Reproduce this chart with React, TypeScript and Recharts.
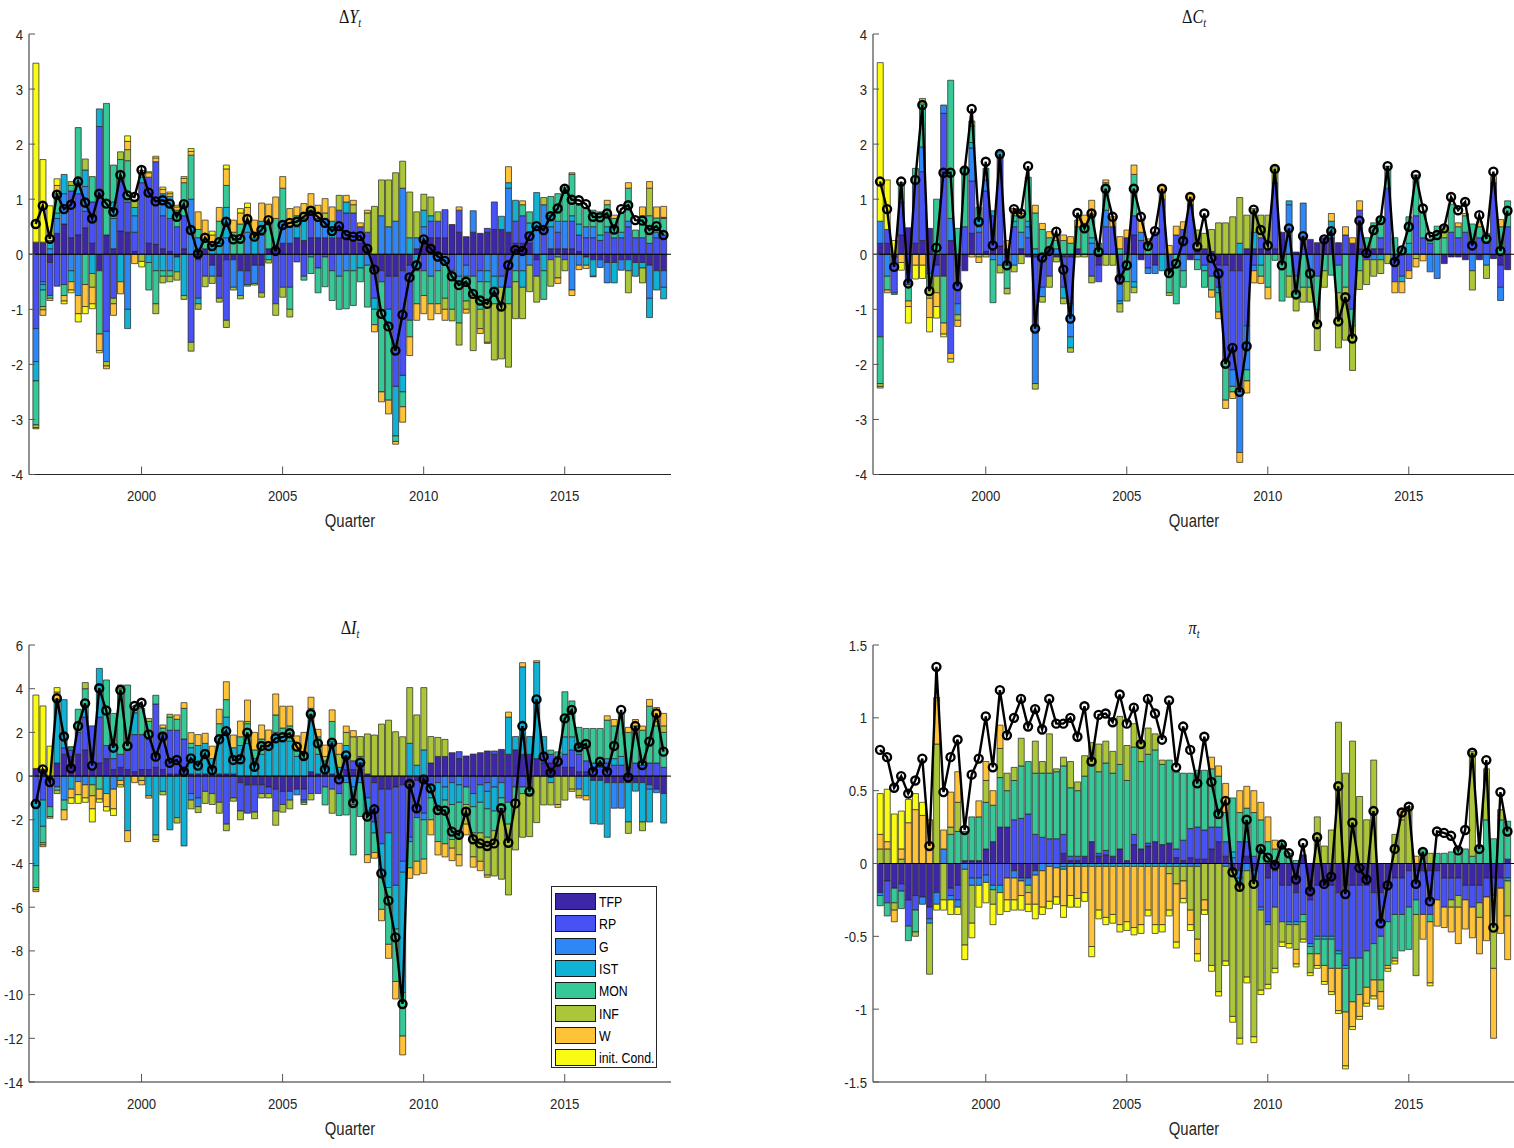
import React from "react";
import { ComposedChart, Bar, Line, XAxis, YAxis, ReferenceLine } from "recharts";

const SANS = '"Liberation Sans", Arial, Helvetica, sans-serif';
const SERIF = '"Liberation Serif", "Times New Roman", serif';
const INK = "#262626";
const SX = 0.85; // the source figure is squeezed horizontally

// 1996Q2 .. 2018Q3
const QUARTERS: string[] = [];
for (let y = 1996; y <= 2018; y++) {
  for (let q = 1; q <= 4; q++) {
    if ((y === 1996 && q < 2) || (y === 2018 && q > 3)) continue;
    QUARTERS.push(`${y}Q${q}`);
  }
}
const X_TICKS = ["2000Q1", "2005Q1", "2010Q1", "2015Q1"];

const SHOCKS = ["TFP", "RP", "G", "IST", "MON", "INF", "W", "init. Cond."];
const SHOCK_COLORS = ["#3e26a8", "#4852f4", "#2e87f7", "#11b1d6", "#37c897", "#abc739", "#fec338", "#f9fb15"];

// ---------- ΔY ----------
const dyTFP = [
  .22, .22, -.15, .38, .55, .3, .35, .48, .2, -.3,
  .35, .1, .42, .4, .05, 0, .2, .18, .1, .05,
  -.05, .1, 0, -.1, .1, -.2, -.4, -.1, -.1, -.3,
  -.3, -.2, -.2, .1, .15, .2, .2, .3, .25, .3,
  .3, .3, .3, .3, .3, .25, .2, .1, -.3, -.3,
  -.4, -.4, -.3, -.2, .1, .2, .3, .3, .3, .54,
  .4, .32, .4, .38, .4, .45, .45, .4, .2, .2,
  .2, -.1, 0, .1, .1, .1, .1, .05, -.05, -.1,
  -.1, -.15, -.15, -.1, -.1, -.15, -.15, -.2, -.3, -.3,
];
const dyRP = [
  -1.35, -.5, -.6, -.58, -.55, .85, .75, .3, .75, 2.32,
  -1.4, -.8, .9, .55, .35, 1.3, 1.2, 1.5, .6, .6,
  .5, .6, -1.6, -.7, -.4, 0, -.4, -1.1, 0, 0,
  -.25, 0, -.5, 0, -.9, -.6, -.6, -.14, -.4, .5,
  -.25, -.05, -.3, .5, .45, .5, .3, .3, -.5, -.2,
  -.6, -2.0, -1.9, -1.0, 0, -.3, .3, .3, .51, -.3,
  .4, -.2, -.4, -.3, .07, .5, -.4, -.6, .4, .5,
  .2, -.3, .5, -.1, .3, -.1, .5, .3, .3, .3,
  .25, .4, .3, .3, .5, .3, .3, .2, .3, .35,
];
const dyG = [
  -.6, -.05, .1, .27, .55, -.3, -.75, .45, 0, 0,
  -.55, .55, 0, -1.0, .3, 0, 0, 0, .4, -.3,
  0, 0, 1.0, .3, 0, -.2, 0, .3, -.5, -.45,
  .4, -.33, .35, 0, 0, .4, .3, 0, 0, -.05,
  .35, .35, 0, -.4, -.3, 0, 0, -.2, 0, .7,
  .5, .6, 1.2, 0, .2, .3, -.4, -.3, -.2, 0,
  -.4, -.2, .39, -.2, -.3, -.4, -.2, .8, -.3, -.3,
  -.2, .5, .4, .4, .2, .5, -.65, -.2, .2, .2,
  -.14, -.37, 0, -.19, .1, 0, 0, -.6, .1, -.3,
];
const dyIST = [
  -.35, -.1, .15, .1, .35, -.2, .3, .3, -.35, .32,
  0, .3, -.5, -.35, .15, .1, -.15, -.3, -.3, .4,
  -.27, -.75, 0, -.1, 0, .15, .2, .55, 0, 0,
  .2, .3, .25, -.1, 0, 0, 0, .2, .4, 0,
  0, 0, .3, 0, .2, -.3, -.25, 0, -.2, 0,
  -.3, -.9, -.3, .3, -.3, .3, .1, 0, 0, 0,
  -.1, 0, 0, 0, -.2, -.3, .24, .1, .38, -.3,
  .17, .62, -.3, .2, -.05, 0, .1, .2, -.15, -.3,
  .1, .1, -.37, .1, -.2, -.25, -.1, -.35, -.35, -.21,
];
const dyMON = [
  -.8, -.3, -.05, .35, -.2, .1, .9, -.55, .46, -1.15,
  2.39, .67, .4, .75, 0, .07, -.5, -.6, -.1, -.1,
  .3, .6, .8, .15, .17, 0, .4, .4, .4, .55,
  -.03, 0, 0, .45, .5, .6, -.4, .2, -.07, -.3,
  -.45, -.54, -.54, -.6, -.69, -.63, -.25, -.76, -.28, -2.0,
  -1.35, -.1, -.27, -.3, -.6, -.45, -.5, -.6, -.6, -.7,
  -.75, -.45, -.35, -.5, -.4, -.2, 0, -.3, -.2, .2,
  .2, 0, -.52, .35, .5, .62, .75, .34, .33, .3,
  .42, .4, .35, .34, .6, .14, .4, .5, .26, .3,
];
const dyINF = [
  -.05, -.06, 0, 0, 0, .07, 0, .2, -.25, 0,
  -.08, -.1, .14, .2, .13, -.13, 0, -.18, -.12, -.1,
  -.15, -.07, -.16, -.1, -.19, -.13, -.07, -.13, -.05, -.06,
  0, -.03, -.08, -.06, -.21, -.18, -.14, 0, .1, .05,
  0, .1, 0, .27, 0, .15, 0, .35, .87, .65,
  .85, .88, .49, .83, .47, .29, .34, .17, -.2, -.21,
  -.4, -.15, -1.0, -.35, -.7, -1.02, -1.3, -1.15, -.67, -.57,
  -.48, -.47, .13, -.48, -.38, -.2, .03, 0, 0, 0,
  0, 0, 0, 0, -.4, 0, -.27, .5, 0, .02,
];
const dyW = [
  -.02, -.1, -.04, .15, -.1, -.15, -.33, -.4, -.3, -.3,
  -.05, -.21, -.22, .15, -.17, .05, .08, .07, .08, .05,
  .06, .08, .07, .32, .35, .2, .25, .3, .22, .2,
  .25, .32, .33, .36, .39, .21, .33, .16, .17, .25,
  .24, .26, .26, 0, .12, .08, .07, .05, -.13, -.18,
  -.25, -.05, -.28, -.34, -.3, -.33, -.29, -.18, -.2, 0,
  .06, -.07, 0, -.09, -.02, 0, 0, .29, 0, .07,
  0, 0, 0, 0, -.1, 0, -.1, -.08, -.06, -.01,
  0, .08, .06, 0, .1, 0, .16, .12, .2, .2,
];
const dyINIT = [
  3.25, 1.5, .63, .12, -.05, -.05, -.15, -.13, -.09, -.04,
  0, 0, 0, .1, 0, -.1, .02, .03, .04, .03,
  .03, .03, .05, 0, 0, .07, 0, .07, 0, .08,
  .08, 0, 0, 0, 0, 0, 0, 0, 0, 0,
  0, 0, 0, 0, 0, 0, 0, 0, 0, 0,
  0, 0, 0, 0, 0, 0, 0, 0, 0, 0,
  0, 0, 0, 0, 0, 0, 0, 0, 0, 0,
  0, 0, 0, 0, 0, 0, 0, 0, 0, 0,
  0, 0, 0, 0, 0, 0, 0, 0, 0, 0,
];
const dyLine = [
  .55, .88, .28, 1.08, .82, .9, 1.32, .94, .65, 1.1,
  .92, .77, 1.44, 1.07, 1.04, 1.53, 1.12, .96, .98, .92,
  .68, .91, .44, .01, .3, .15, .22, .59, .27, .28,
  .64, .32, .44, .62, .06, .53, .57, .59, .68, .79,
  .68, .57, .42, .51, .35, .32, .33, .1, -.28, -1.08,
  -1.31, -1.75, -1.1, -.42, -.2, .27, .1, -.04, -.12, -.4,
  -.56, -.5, -.72, -.84, -.9, -.68, -.95, -.2, .08, .06,
  .33, .51, .44, .69, .83, 1.19, .99, .98, .91, .68,
  .67, .74, .45, .82, .89, .62, .61, .44, .51, .35,
];

// ---------- ΔC ----------
const dcTFP = [
  .2, .2, -.05, .35, .48, .2, .25, .47, -.2, -.4,
  .25, -.2, -.3, .38, 0, .05, .1, .15, .1, 0,
  .1, -.05, -.05, 0, .1, -.05, -.05, -.05, .1, 0,
  0, -.2, 0, 0, 0, .3, .35, -.1, 0, -.2,
  0, 0, 0, 0, -.1, .1, .1, .05, -.2, -.2,
  -.3, -.3, .1, .1, .1, .1, .1, .4, 0, .04,
  0, .27, .21, .3, .3, .21, 0, .2, .1, .1,
  .1, .1, 0, 0, 0, 0, 0, 0, 0, 0,
  -.17, -.05, -.05, -.1, 0, -.1, 0, -.08, -.2, -.28,
];
const dcRP = [
  -1.5, .25, -.65, .6, -.55, 1.1, 1.25, -.35, -.2, 2.56,
  -1.8, -.7, .5, .95, .4, 1.1, .6, 1.6, -.2, .5,
  0, .3, -1.25, -.6, -.4, 0, -.55, -.85, 0, 0,
  -.4, -.3, .5, .5, -.55, 0, .35, .25, -.25, .4,
  1.0, -.3, .35, .45, .9, 0, -.2, -.4, -.4, -1.7,
  -1.8, -2.2, -1.3, -.2, .2, 0, 1.2, 0, 0, -.4,
  .3, 0, -.4, 0, 0, -.2, .35, -1.0, .7, -.1,
  0, .2, 1.2, -.5, -.4, -.3, .7, .3, .2, 0,
  0, .4, .3, .4, .2, .3, .2, 1.3, -.4, .5,
];
const dcG = [
  .4, -.4, 0, 0, 0, 0, .45, 0, 0, .15,
  .4, -.2, 0, .6, .1, .2, -.1, -.2, 0, -.2,
  .3, .2, -1.05, -.17, 0, .1, 0, -.6, 0, 0,
  .2, 0, .3, 0, -.3, 0, -.5, .15, -.1, -.15,
  0, 0, 0, -.3, 0, -.1, 0, 0, 0, 0,
  -.3, -1.1, -.8, -.1, 0, 0, 0, 0, .9, 0,
  .63, -.3, 0, 0, 0, 0, 0, 0, 0, 0,
  -.1, 0, 0, 0, 0, 0, 0, 0, -.32, -.44,
  0, 0, 0, 0, -.3, 0, -.2, 0, -.24, 0,
];
const dcIST = [
  0, 0, -.03, 0, 0, 0, 0, 0, 0, 0,
  0, 0, 0, .1, .15, 0, .09, .11, 0, .1,
  0, .1, .1, 0, 0, 0, -.2, -.2, 0, 0,
  .1, 0, 0, 0, -.05, 0, -.1, 0, 0, 0,
  -.3, 0, 0, 0, 0, 0, -.1, 0, -.1, 0,
  0, .2, 0, .3, -.2, 0, 0, 0, .07, 0,
  0, 0, 0, 0, .3, 0, 0, 0, 0, 0,
  0, -.1, 0, 0, -.1, .2, 0, 0, 0, 0,
  0, 0, 0, 0, 0, 0, 0, 0, 0, 0,
];
const dcMON = [
  -.85, -.25, 0, .35, -.3, .26, .78, -.25, 1.0, -.85,
  2.51, .47, 1.06, .3, .2, .21, -.78, 0, -.42, .1,
  .3, .8, .65, .45, .2, .15, .25, .2, .4, .55,
  .43, .2, .5, 0, .1, -.5, .75, 0, .2, 0,
  0, -.4, -.9, -.3, 0, -.18, -.3, -.25, -.35, -.75,
  -.1, 0, -.2, 0, -.2, -.6, -.11, -.85, -.4, -.4,
  -.6, -.3, -.6, -.3, -.38, -.5, -.6, -.3, -.3, .2,
  .47, .38, .4, .3, .1, .48, .74, .47, .08, .51,
  .3, .51, .2, .3, .35, .2, .18, 0, .5, .47,
];
const dcINF = [
  -.05, 0, 0, 0, 0, 0, .1, -.2, -.3, 0,
  0, -.1, 0, .09, -.05, -.05, 0, -.14, -.1, -.12,
  -.17, 0, -.1, -.1, -.2, -.09, -.1, -.08, -.05, -.05,
  -.12, 0, -.2, -.2, -.15, -.35, -.1, 0, 0, 0,
  0, -.05, 0, 0, 0, .34, .28, .4, .57, .57,
  .68, .83, .61, .43, .41, .61, .29, 0, -.38, -.23,
  -.27, -.27, -.75, -.3, 0, -1.0, -.96, -.81, -.34, -.45,
  -.3, -.25, -.17, 0, 0, 0, -.08, 0, 0, 0,
  .2, 0, 0, 0, -.35, 0, -.24, 0, 0, 0,
];
const dcW = [
  -.03, -.05, 0, -.15, -.1, -.2, -.2, -.35, -.25, -.2,
  -.1, -.11, 0, -.05, -.1, 0, 0, 0, .15, .13,
  .04, 0, .14, .11, .11, .1, .1, .12, .12, .16,
  .25, 0, .05, .18, .22, .14, .17, .22, .08, 0,
  .25, .16, .16, .14, .2, 0, 0, -.13, -.12, -.15,
  -.12, -.18, -.22, -.22, -.13, -.21, 0, 0, 0, 0,
  0, 0, 0, 0, .14, 0, .15, .1, .17, 0,
  0, 0, 0, -.2, -.2, -.14, -.15, -.12, 0, 0,
  0, 0, .07, .04, 0, .09, 0, .11, .13, 0,
];
const dcINIT = [
  2.88, .9, .25, -.14, -.3, -.25, -.24, -.26, -.21, -.05,
  -.06, 0, 0, 0, 0, 0, 0, 0, 0, 0,
  0, 0, 0, 0, 0, 0, 0, 0, 0, 0,
  0, 0, 0, 0, 0, 0, 0, 0, 0, 0,
  0, 0, 0, 0, 0, 0, 0, 0, 0, 0,
  0, 0, 0, 0, 0, 0, 0, 0, 0, 0,
  0, 0, 0, 0, 0, 0, 0, 0, 0, 0,
  0, 0, 0, 0, 0, 0, 0, 0, 0, 0,
  0, 0, 0, 0, 0, 0, 0, 0, 0, 0,
];
const dcLine = [
  1.32, .82, -.23, 1.32, -.53, 1.35, 2.71, -.67, .12, 1.48,
  1.48, -.58, 1.52, 2.64, .59, 1.68, .16, 1.82, -.2, .82,
  .74, 1.6, -1.35, -.06, .06, .41, -.28, -1.17, .75, .47,
  .74, .04, 1.19, .68, -.45, -.2, 1.19, .68, .15, .42,
  1.19, -.34, -.17, .24, 1.04, .14, .74, -.07, -.35, -1.99,
  -1.7, -2.5, -1.67, .81, .44, .16, 1.55, -.2, .47, -.73,
  .33, -.35, -1.27, .27, .42, -1.22, -.78, -1.53, .61, .02,
  .44, .62, 1.6, -.14, .07, .5, 1.44, .83, .32, .35,
  .47, 1.04, .8, .95, .16, .71, .28, 1.5, .06, .79,
];

// ---------- ΔI ----------
const diTFP = [
  .35, .3, -.1, .6, 1.0, .9, 1.0, 1.2, .3, .6,
  .8, .3, .4, .3, .2, .3, .3, .4, .3, .1,
  .1, .1, .1, .1, .1, .1, .1, .1, .1, -.3,
  -.4, -.4, -.4, -.5, -.6, -.7, -.7, -.6, -.6, .2,
  .1, .1, .1, -.1, .3, .3, .3, .1, -.3, -.6,
  -.6, -.5, -.4, -.3, -.2, -.2, .6, .9, .9, 1.07,
  .8, .92, 1.01, 1.07, 1.15, 1.0, 1.22, 1.0, 1.2, 1.0,
  1.0, .8, .6, .6, .5, .4, .4, .2, .2, -.2,
  -.2, -.3, -.3, -.3, -.3, -.3, -.3, -.4, -.6, -.8,
];
const diRP = [
  -1.1, -1.1, -1.3, -.5, .3, .3, 1.0, 1.5, 2.0, 2.1,
  .6, .5, .6, .9, 1.7, 1.6, 1.4, 2.9, 1.6, 2.0,
  2.0, 1.6, -.8, -1.0, -.7, -.8, -1.2, -2.2, -1.0, -1.3,
  -1.3, -1.25, -.4, -.3, -1.0, -.6, 0, 0, -.5, -.8,
  -.8, -.5, -.6, -.7, .6, .4, .3, -1.0, -1.8, -2.5,
  -2.0, -4.5, -3.5, -2.5, -1.7, -1.5, -.4, -.3, 0, -.3,
  .32, -.5, -.8, -.4, -.3, .15, -.3, -1.2, -.5, -.5,
  -.5, 0, .5, .4, .4, .6, .8, .8, .5, .3,
  .4, .6, .5, .5, .4, .6, .5, .6, .6, .4,
];
const diG = [
  0, 0, 0, 0, -1.1, 0, -.25, -.4, 0, 0,
  0, -.6, 0, 0, 0, 0, 0, 0, 0, 0,
  0, 0, -.3, -.4, 0, 0, 0, 0, 0, 0,
  0, 0, 0, 0, 0, 0, -.4, -.26, -.1, 0,
  0, 0, 0, 0, -.3, -.5, -.3, 0, 0, 0,
  0, 0, -.5, -.2, 0, -.3, 0, 0, -.5, 0,
  -.4, 0, 0, 0, -.4, -.5, 0, 0, 0, 0,
  0, 0, 0, 0, 0, 0, 0, -.6, 0, .3,
  0, .2, -1.17, -1.17, 0, 0, 0, -.2, -.16, 0,
];
const diIST = [
  -3.0, -1.2, 0, 2.9, 2.2, -.6, 0, .5, -.4, 2.23,
  -.8, .6, -.2, -2.5, 1.0, 0, -.9, -2.7, -.7, -2.46,
  -1.9, -3.2, 1.2, 1.3, 1.4, .7, 1.8, 2.6, 1.2, 1.4,
  1.5, .8, 1.0, 1.4, 2.0, 1.8, 1.6, .9, .8, 2.6,
  .9, .6, 1.5, .4, .5, -.8, .3, -.6, -.5, -1.5,
  -2.5, -2.0, -5.5, 1.5, .5, 1.2, -.6, -1.2, -.6, -1.0,
  -.8, 0, -.6, -.8, -.8, -1.1, -.7, 1.7, .61, 4.0,
  .81, 4.4, .71, -.3, 0, .8, .6, .3, -.9, -1.98,
  -2.0, -2.5, .3, .4, -1.8, -.39, -1.8, -1.5, 0, -1.35,
];
const diMON = [
  -1.0, -.75, -.45, -.15, -.45, .1, 1.06, .8, 0, -.6,
  3.0, 1.47, 3.0, 2.97, .3, 1.2, .8, .4, .3, .6,
  .5, 1.4, .2, 0, 0, 0, .5, .8, 0, .4,
  .9, .4, .7, 0, .8, .4, .7, .3, .3, .3,
  .8, -.82, .9, -1.0, -1.48, -2.31, -1.55, -2.0, -.9, -1.5,
  -2.6, -2.4, -2.0, -1.2, -2.0, -1.8, -1.0, -1.5, -2.0, -1.6,
  -1.6, -.8, -1.2, -1.4, -1.3, -.9, -.5, -1.0, -.6, -.3,
  -.3, 0, 0, .19, .21, 2.06, 1.64, .93, 1.48, 1.58,
  1.78, 1.76, 1.5, 1.94, 1.6, 1.7, 1.6, 2.6, 1.7, 1.6,
];
const diINF = [
  -.1, -.1, -.08, -.15, 0, .05, 0, .28, -.5, 0,
  0, 0, .17, 0, 0, -.2, .14, -.2, -.16, .13,
  -.25, 0, -.4, -.27, -.55, -.5, -.5, -.3, -.15, -.4,
  .1, -.3, -.2, -.2, -.65, -.35, -.4, 0, -.1, -.29,
  0, .2, -1.1, .6, .6, 1.1, .91, 1.83, 1.88, 2.38,
  2.56, 2.03, 1.8, 2.55, 2.3, 2.85, 1.21, .87, .78, -.4,
  -.8, -.9, -1.1, -1.3, -1.73, -2.07, -3.22, -3.24, -2.28, -2.0,
  -1.97, -2.13, -1.32, -1.02, -1.3, -1.1, -.6, -.3, 0, 0,
  0, 0, 0, 0, -.52, 0, -.4, 0, .2, .3,
];
const diW = [
  -.09, -.08, 0, .35, -.45, -.4, -.6, -.6, -.6, -.45,
  -.6, -.9, -.2, -.5, -.3, -.2, -.11, -.1, .14, 0,
  .2, .26, .49, .5, .46, .57, .66, .82, .58, .72,
  .98, .8, .64, .71, .96, 1.0, .9, .64, .9, .51,
  .34, .52, .53, .5, .29, .28, 0, -.36, -.26, -.52,
  -.64, -.8, -.86, -.48, -.62, -.65, -.69, -.61, -.6, -.57,
  -.51, -.49, -.47, -.43, -.1, 0, 0, .23, 0, .19,
  0, .08, 0, 0, -.13, 0, -.1, -.1, -.19, 0,
  0, .2, .29, 0, .23, .29, .19, .31, .64, .57,
];
const diINIT = [
  3.36, 2.91, 1.37, .2, 0, -.25, -.4, -.2, -.6, -.15,
  -.2, -.3, -.1, 0, 0, 0, 0, 0, 0, 0,
  0, 0, 0, 0, 0, 0, 0, 0, 0, 0,
  0, 0, 0, 0, 0, 0, 0, 0, 0, 0,
  0, 0, 0, 0, 0, 0, 0, 0, 0, 0,
  0, 0, 0, 0, 0, 0, 0, 0, 0, 0,
  0, 0, 0, 0, 0, 0, 0, 0, 0, 0,
  0, 0, 0, 0, 0, 0, 0, 0, 0, 0,
  0, 0, 0, 0, 0, 0, 0, 0, 0, 0,
];
const diLine = [
  -1.28, .31, -.27, 3.56, 1.81, .36, 2.29, 3.33, .48, 4.02,
  3.0, 1.3, 3.94, 1.38, 3.21, 3.36, 1.91, .89, 1.81, .61,
  .74, .2, .81, .48, 1.01, .28, 1.68, 2.06, .74, .77,
  1.99, .43, 1.38, 1.38, 1.73, 1.78, 1.96, 1.35, .92, 2.84,
  1.5, .31, 1.53, -.15, .95, -1.23, .61, -1.85, -1.52, -4.45,
  -5.7, -7.38, -10.43, -.36, -1.47, -.15, -.56, -1.55, -1.58, -2.54,
  -2.69, -1.63, -2.89, -3.08, -3.2, -3.08, -1.47, -3.05, -1.25, 2.29,
  -.71, 3.51, .89, .16, .66, 2.64, 3.03, 1.32, 1.47, .2,
  .66, .2, 1.38, 3.03, -.06, 2.29, .51, 1.58, 2.87, 1.12,
];

// ---------- π ----------
const piTFP = [
  -.2, -.12, -.17, -.14, -.25, -.22, -.23, -.3, -.2, 0,
  -.17, -.15, .02, .02, .02, .1, .15, .25, .25, -.05,
  -.1, -.1, -.05, 0, 0, 0, .07, .02, .02, .05,
  .15, .05, .06, .05, .1, .02, .13, .1, .12, .15,
  .13, .14, .04, .02, .04, .03, .03, .1, .15, .05,
  -.05, -.05, .05, -.05, 0, -.1, -.05, -.15, -.15, -.2,
  .06, -.25, -.15, -.15, -.15, -.2, -.15, -.15, -.15, -.15,
  -.2, -.2, -.15, -.1, -.1, -.05, -.05, -.05, -.05, -.05,
  -.1, -.1, -.1, -.15, -.15, -.15, -.1, -.1, -.1, .03,
];
const piRP = [
  0, -.15, 0, -.05, -.18, -.1, 0, -.08, 0, 0,
  -.05, -.1, 0, -.1, -.1, -.08, -.15, -.15, -.1, .3,
  .31, .34, .2, .18, .17, .17, .13, .03, .03, 0,
  0, .02, .03, 0, 0, 0, .07, 0, .02, 0,
  0, 0, .06, .14, .2, .22, .2, .15, .1, .1,
  0, .15, .1, .05, -.3, -.3, -.25, -.25, -.25, -.2,
  -.35, -.3, -.35, -.35, -.35, -.4, -.55, -.5, -.5, -.45,
  -.35, -.3, -.25, -.25, -.25, -.25, -.2, -.3, -.3, -.2,
  -.2, -.15, -.12, -.1, -.15, -.12, -.13, -.12, -.07, -.1,
];
const piG = [
  -.02, 0, 0, 0, 0, 0, -.05, -.03, -.08, .1,
  -.03, -.05, -.04, -.05, -.05, -.05, 0, 0, 0, -.05,
  -.02, -.05, -.03, -.05, -.02, -.03, -.02, 0, 0, 0,
  0, 0, 0, 0, 0, 0, 0, 0, 0, 0,
  0, 0, 0, 0, -.02, -.02, 0, 0, 0, -.02,
  .04, -.05, -.05, 0, -.02, -.02, 0, 0, 0, 0,
  0, 0, 0, 0, 0, 0, 0, 0, 0, 0,
  0, 0, 0, 0, 0, 0, 0, 0, 0, 0,
  0, 0, 0, 0, 0, 0, 0, 0, 0, 0,
];
const piIST = [
  0, 0, 0, 0, 0, 0, 0, 0, 0, 0,
  0, 0, 0, 0, 0, 0, -.03, -.05, 0, 0,
  0, 0, 0, 0, 0, 0, -.02, -.02, -.02, -.02,
  -.02, -.02, -.02, -.02, -.02, -.02, -.02, -.02, -.02, -.02,
  -.02, -.02, -.02, -.02, 0, 0, 0, 0, 0, 0,
  .04, -.05, 0, -.05, 0, 0, 0, 0, -.02, -.02,
  0, -.02, -.02, -.02, -.02, -.02, -.02, 0, 0, 0,
  0, 0, 0, 0, 0, 0, 0, 0, 0, 0,
  0, 0, 0, 0, 0, 0, 0, 0, 0, -.02,
];
const piMON = [
  -.07, -.09, -.1, -.12, -.1, -.15, 0, 0, 0, 0,
  .2, .22, .2, .3, .3, .32, .25, .34, .25, .27,
  .36, .36, .42, .44, .45, .46, .47, .47, .45, .55,
  .53, .56, .6, .57, .58, .55, .6, .6, .61, .63,
  .55, .57, .53, .46, .38, .39, .41, .4, .35, .2,
  .37, .2, .23, .3, .3, .15, .1, .15, .07, .02,
  -.05, -.05, -.1, -.18, -.2, -.1, -.3, -.3, -.25, -.25,
  -.25, -.3, -.3, -.3, -.25, -.29, -.1, .1, -.05, .07,
  .07, .08, .1, .1, .05, .12, .3, .17, .3, .26,
];
const piINF = [
  .1, .1, -.05, .03, 0, -.03, 0, -.35, .82, -.25,
  .05, .2, -.52, -.26, 0, .15, -.1, .2, .12, .09,
  .19, -.05, .22, .08, .27, .02, .06, .18, .06, .14,
  .15, .19, .15, .15, .33, .24, .16, .13, .18, .11,
  .03, -.05, -.12, -.1, -.3, -.5, -.25, -.7, -.88, -.65,
  -1.0, -1.05, -.73, -1.09, -.55, -.41, -.42, -.14, -.13, -.17,
  -.12, -.13, .32, .12, .23, .97, .62, .84, .46, .3,
  .71, -.08, 0, .2, .3, .39, -.42, 0, .07, 0,
  0, -.05, -.08, 0, .72, -.1, .35, -.5, .07, -.24,
];
const piW = [
  .1, .05, -.08, .07, .28, .37, .33, .3, .32, .13,
  .24, .21, 0, 0, .11, .13, .1, .16, -.15, -.15,
  -.1, -.08, -.2, -.25, -.24, -.2, -.25, -.2, -.22, -.18,
  -.55, -.3, -.35, -.33, -.4, -.38, -.42, -.4, -.3, -.4,
  -.4, -.25, -.4, -.12, -.1, -.1, -.07, .08, .07, .2,
  0, .15, .15, .15, .12, .17, .06, 0, 0, -.1,
  0, 0, -.08, -.11, -.16, -.29, -.37, -.17, -.15, -.11,
  -.11, -.1, -.02, -.02, .07, 0, .05, -.17, -.42, -.18,
  -.14, -.17, -.25, -.2, -.21, -.25, -.3, -.48, -.31, -.3,
];
const piINIT = [
  .28, .36, .34, .26, .16, .11, .09, 0, -.04, -.07,
  -.1, -.05, -.1, -.1, -.15, -.14, -.14, -.15, -.08, -.07,
  -.1, -.05, -.1, -.05, -.05, -.05, -.08, -.08, -.06, -.06,
  -.07, -.06, -.05, -.06, -.05, -.06, -.05, -.06, -.04, -.06,
  -.05, -.04, -.04, -.03, -.04, -.05, -.03, -.04, -.03, -.03,
  -.04, -.04, -.04, -.04, -.03, -.03, -.03, -.03, -.03, -.02,
  -.02, -.02, -.02, -.02, -.02, -.02, -.02, -.02, -.02, -.02,
  -.02, -.02, -.02, -.02, 0, 0, 0, 0, -.02, 0,
  0, 0, 0, 0, 0, 0, 0, 0, 0, 0,
];
const piLine = [
  .78, .73, .52, .6, .48, .57, .72, .12, 1.35, .49,
  .73, .85, .23, .61, .72, 1.01, .66, 1.19, .88, 1.0,
  1.13, .94, 1.06, .92, 1.13, .96, .96, 1.0, .87, 1.08,
  .7, 1.02, 1.03, .97, 1.16, .96, 1.07, .82, 1.13, 1.03,
  .85, 1.12, .66, .94, .78, .55, .87, .56, .34, .43,
  -.06, -.16, .3, -.14, .1, .04, -.01, .13, .07, -.11,
  .14, -.19, .18, -.14, -.09, .53, -.21, .28, -.03, -.11,
  .36, -.41, -.15, .1, .35, .39, -.14, .08, -.26, .22,
  .21, .19, .09, .23, .76, .1, .71, -.44, .49, .22,
];

const TICKS_4 = [-4, -3, -2, -1, 0, 1, 2, 3, 4];
const TICKS_I = [-14, -12, -10, -8, -6, -4, -2, 0, 2, 4, 6];
const TICKS_PI = [-1.5, -1, -0.5, 0, 0.5, 1, 1.5];

type PanelCfg = {
  id: string;
  sym: string;
  x: number; y: number; w: number; h: number;
  padL: number; padR: number;
  labelGap: number;
  domain: [number, number];
  ticks: number[];
  series: number[][];
  line: number[];
};

const PANELS: PanelCfg[] = [
  { id: "dy", sym: "ΔY", x: 29, y: 33.5, w: 642, h: 440.5, padL: 3.2, padR: 4, labelGap: 39, domain: [-4, 4], ticks: TICKS_4,
    series: [dyTFP, dyRP, dyG, dyIST, dyMON, dyINF, dyW, dyINIT], line: dyLine },
  { id: "dc", sym: "ΔC", x: 873, y: 33.5, w: 641, h: 440.5, padL: 3.5, padR: 3, labelGap: 39, domain: [-4, 4], ticks: TICKS_4,
    series: [dcTFP, dcRP, dcG, dcIST, dcMON, dcINF, dcW, dcINIT], line: dcLine },
  { id: "di", sym: "ΔI", x: 29, y: 645, w: 642, h: 437, padL: 3.2, padR: 4, labelGap: 39, domain: [-14, 6], ticks: TICKS_I,
    series: [diTFP, diRP, diG, diIST, diMON, diINF, diW, diINIT], line: diLine },
  { id: "pi", sym: "π", x: 873, y: 645, w: 641, h: 437, padL: 3.5, padR: 3, labelGap: 39, domain: [-1.5, 1.5], ticks: TICKS_PI,
    series: [piTFP, piRP, piG, piIST, piMON, piINF, piW, piINIT], line: piLine },
];

function buildRows(series: number[][], line: number[]) {
  return QUARTERS.map((q, i) => {
    const row: Record<string, number | string> = { q, line: line[i] };
    series.forEach((s, k) => { row[`k${k}`] = s[i]; });
    return row;
  });
}

const XTick = (p: any) => (
  <g transform={`translate(${p.x},${p.y})`}>
    <text textAnchor="middle" dy="0.71em" fontSize={15.5} fill={INK} fontFamily={SANS} transform={`scale(${SX},1)`}>
      {String(p.payload.value).slice(0, 4)}
    </text>
  </g>
);

const YTick = (p: any) => (
  <g transform={`translate(${p.x},${p.y})`}>
    <text textAnchor="end" dy="0.36em" fontSize={15.5} fill={INK} fontFamily={SANS} transform={`scale(${SX},1)`}>
      {String(p.payload.value)}
    </text>
  </g>
);

const Ring = (p: any) => (
  <circle key={`r${p.index}`} cx={p.cx} cy={p.cy} r={4} fill="none" stroke="#000" strokeWidth={2.4} />
);

function Panel({ p }: { p: PanelCfg }) {
  const rows = buildRows(p.series, p.line);
  const cx = p.x + p.w / 2;
  const bottom = p.y + p.h;
  return (
    <>
      <div style={{ position: "absolute", left: p.x - 30, top: p.y - 10 }}>
        <ComposedChart
          width={p.w + 40}
          height={p.h + 60}
          data={rows}
          stackOffset="sign"
          barCategoryGap="10%"
          margin={{ top: 10, right: 10, left: 0, bottom: 0 }}
        >
          <XAxis
            dataKey="q"
            ticks={X_TICKS}
            interval={0}
            height={50}
            padding={{ left: p.padL, right: p.padR }}
            tickSize={-8}
            tickMargin={23.5}
            tick={XTick}
            axisLine={{ stroke: INK }}
            tickLine={{ stroke: "#555" }}
          />
          <YAxis
            type="number"
            width={30}
            domain={p.domain}
            ticks={p.ticks}
            allowDataOverflow
            interval={0}
            tickSize={-6}
            tickMargin={12}
            tick={YTick}
            axisLine={{ stroke: INK }}
            tickLine={{ stroke: "#555" }}
          />
          {SHOCKS.map((name, k) => (
            <Bar
              key={name}
              dataKey={`k${k}`}
              name={name}
              stackId="s"
              fill={SHOCK_COLORS[k]}
              stroke="#222"
              strokeWidth={0.7}
              isAnimationActive={false}
            />
          ))}
          <ReferenceLine y={0} stroke="#000" strokeWidth={1} />
          <Line
            dataKey="line"
            type="linear"
            stroke="#000"
            strokeWidth={2.4}
            dot={Ring}
            activeDot={false}
            isAnimationActive={false}
          />
        </ComposedChart>
      </div>
      <div
        style={{
          position: "absolute", left: cx, top: p.y - 27, transform: `translateX(-50%) scaleX(${SX})`,
          fontFamily: SERIF, fontSize: 19, lineHeight: "19px", color: "#111", whiteSpace: "nowrap",
        }}
      >
        {p.sym.startsWith("Δ") ? "Δ" : ""}
        <i>{p.sym.replace("Δ", "")}</i>
        <i style={{ fontSize: 12, position: "relative", top: 4 }}>t</i>
      </div>
      <div
        style={{
          position: "absolute", left: cx, top: bottom + p.labelGap, transform: `translateX(-50%) scaleX(${SX})`,
          fontFamily: SANS, fontSize: 17.5, lineHeight: "17px", color: INK, whiteSpace: "nowrap",
        }}
      >
        Quarter
      </div>
    </>
  );
}

function ShockLegend() {
  return (
    <div
      style={{
        position: "absolute", left: 551, top: 886, width: 106, height: 182,
        border: `1px solid ${INK}`, background: "#fff", boxSizing: "border-box",
      }}
    >
      {SHOCKS.map((name, k) => (
        <div key={name} style={{ position: "absolute", left: 3, top: 6 + 22.3 * k, height: 17, width: 100 }}>
          <div
            style={{
              position: "absolute", left: 0, top: 0, width: 41, height: 17,
              background: SHOCK_COLORS[k], border: "1px solid #1a1a1a", boxSizing: "border-box",
            }}
          />
          <div
            style={{
              position: "absolute", left: 44, top: 1, fontFamily: SANS, fontSize: 14.5, lineHeight: "16px",
              color: "#000", whiteSpace: "nowrap", transform: `scaleX(${SX})`, transformOrigin: "left center",
            }}
          >
            {name}
          </div>
        </div>
      ))}
    </div>
  );
}

export default function App() {
  return (
    <div
      style={{
        position: "absolute", left: 0, top: 0, width: 1514, height: 1148,
        overflow: "hidden", background: "#fff",
      }}
    >
      {PANELS.map((p) => (
        <Panel key={p.id} p={p} />
      ))}
      <ShockLegend />
    </div>
  );
}
